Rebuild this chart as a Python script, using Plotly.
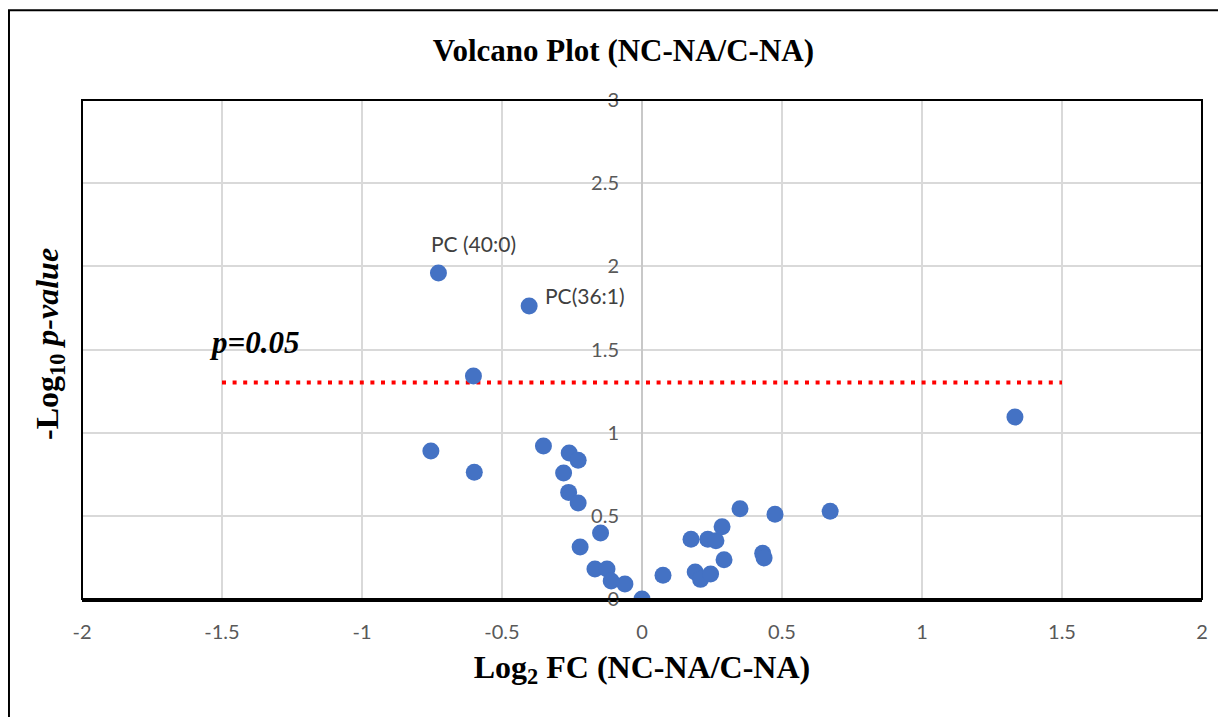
import plotly.graph_objects as go

# log2 fold change and -log10 p-value
log2_fc = [-0.727, -0.403, -0.602, -0.754, -0.599, -0.352, -0.26, -0.228, -0.28,
           -0.262, -0.228, -0.148, -0.221, -0.168, -0.125, -0.11, -0.061, 0.0,
           0.075, 0.175, 0.19, 0.209, 0.235, 0.264, 0.286, 0.245, 0.293, 0.35,
           0.431, 0.436, 0.475, 0.672, 1.332]
neg_log10_p = [1.96, 1.762, 1.341, 0.89, 0.762, 0.92, 0.878, 0.834, 0.758,
               0.641, 0.577, 0.397, 0.313, 0.18, 0.181, 0.108, 0.09, 0.0,
               0.143, 0.359, 0.162, 0.118, 0.359, 0.35, 0.435, 0.15, 0.236, 0.543,
               0.275, 0.247, 0.509, 0.528, 1.094]

# significance threshold (p = 0.05)
thresh_x = [-1.5, 1.5]
thresh_y = [1.301, 1.301]

label_names = ["PC (40:0)", "PC(36:1)"]
label_idx = [0, 1]

x_ticks = [-2, -1.5, -1, -0.5, 0, 0.5, 1, 1.5, 2]
y_ticks = [0, 0.5, 1, 1.5, 2, 2.5, 3]

tick_font = dict(family="Lato, Open Sans, sans-serif", size=20, color="#595959")
serif = "Liberation Serif, Times New Roman, serif"

fig = go.Figure()
fig.add_trace(go.Scatter(x=thresh_x, y=thresh_y, mode="lines",
                         line=dict(color="#FF0000", width=4, dash="4px,6.6px"),
                         hoverinfo="skip"))
fig.add_trace(go.Scatter(x=log2_fc, y=neg_log10_p, mode="markers",
                         marker=dict(color="#4472C4", size=17)))

# point labels
fig.add_annotation(x=log2_fc[label_idx[0]], y=neg_log10_p[label_idx[0]],
                   text=label_names[0], showarrow=False, yshift=29, xshift=35,
                   font=dict(family="Lato, sans-serif", size=21, color="#404040"))
fig.add_annotation(x=log2_fc[label_idx[1]], y=neg_log10_p[label_idx[1]],
                   text=label_names[1], showarrow=False, xanchor="left", xshift=14, yshift=10,
                   font=dict(family="Lato, sans-serif", size=21, color="#404040"))
fig.add_annotation(x=-1.5, y=thresh_y[0], text="<b><i>p=0.05</i></b>", showarrow=False,
                   xanchor="left", yshift=40, xshift=-15,
                   font=dict(family=serif, size=31, color="black"))

# plot area border and outer chart frame
fig.add_shape(type="rect", xref="paper", yref="paper", x0=0, x1=1, y0=0, y1=1,
              line=dict(color="black", width=2))
fig.add_shape(type="rect", xref="paper", yref="paper", x0=-0.0652, x1=1.05, y0=-0.3, y1=1.18,
              line=dict(color="black", width=2))

fig.update_layout(
    width=1226, height=717,
    margin=dict(l=74, r=32, t=92, b=126),
    plot_bgcolor="white", paper_bgcolor="white",
    showlegend=False,
    title=dict(text="<b>Volcano Plot (NC-NA/C-NA)</b>", x=0.502, xref="container",
               xanchor="center", y=0.941, yanchor="middle",
               font=dict(family=serif, size=31, color="black")),
    xaxis=dict(range=[-2, 2], tickvals=x_ticks, ticktext=[str(v) for v in x_ticks],
               showgrid=True, gridcolor="#D9D9D9", gridwidth=1.5,
               zeroline=True, zerolinecolor="#C8C8C8", zerolinewidth=2,
               showline=True, linecolor="black", linewidth=2.5,
               tickfont=tick_font, ticklabelstandoff=13,
               title=dict(text="<b>Log<sub>2</sub> FC (NC-NA/C-NA)</b>", standoff=14,
                          font=dict(family=serif, size=32, color="black"))),
    yaxis=dict(range=[0, 3], tickvals=y_ticks, ticktext=[str(v) for v in y_ticks],
               anchor="free", position=0.5,
               showgrid=True, gridcolor="#D9D9D9", gridwidth=1.5,
               zeroline=False, showline=False,
               tickfont=tick_font, ticklabelstandoff=23),
)

fig.add_annotation(xref="paper", yref="paper", x=-0.029, y=0.51, textangle=-90,
                   text="<b>-Log<sub>10</sub> <i>p-value</i></b>", showarrow=False,
                   xanchor="center", yanchor="middle",
                   font=dict(family=serif, size=32, color="black"))

fig.write_html("out.html")
